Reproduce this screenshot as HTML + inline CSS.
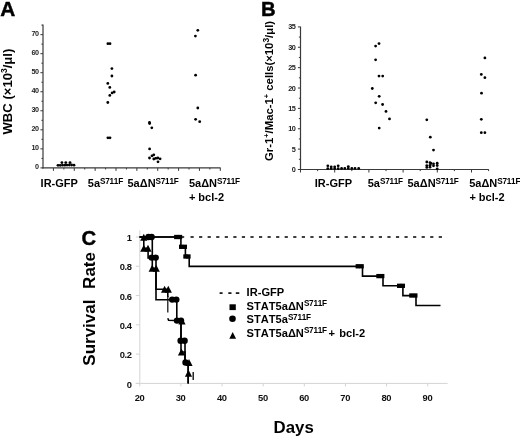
<!DOCTYPE html>
<html><head><meta charset="utf-8"><style>
html,body{margin:0;padding:0;background:#fff;}
body{width:520px;height:438px;overflow:hidden;}
svg{display:block;font-family:"Liberation Sans", sans-serif;will-change:transform;font-kerning:none;}
</style></head><body>
<svg width="520" height="438" viewBox="0 0 520 438">
<rect width="520" height="438" fill="#fff"/>
<text x="0" y="15.7" font-size="20.0" font-weight="bold" text-anchor="start" fill="#000" stroke="#000" stroke-width="0.45" transform="translate(0.3,0) scale(1.04,1)">A</text>
<line x1="43" y1="24.4" x2="43" y2="168.5" stroke="#3a3a3a" stroke-width="1.2" />
<line x1="40.4" y1="167.9" x2="43" y2="167.9" stroke="#3a3a3a" stroke-width="1.0" />
<text x="38.5" y="169.4" font-size="7.2" font-weight="bold" text-anchor="end" fill="#222" letter-spacing="-0.45">0</text>
<line x1="41.4" y1="158.38" x2="43" y2="158.38" stroke="#3a3a3a" stroke-width="1.0" />
<line x1="40.4" y1="148.86" x2="43" y2="148.86" stroke="#3a3a3a" stroke-width="1.0" />
<text x="38.5" y="150.36" font-size="7.2" font-weight="bold" text-anchor="end" fill="#222" letter-spacing="-0.45">10</text>
<line x1="41.4" y1="139.34" x2="43" y2="139.34" stroke="#3a3a3a" stroke-width="1.0" />
<line x1="40.4" y1="129.82" x2="43" y2="129.82" stroke="#3a3a3a" stroke-width="1.0" />
<text x="38.5" y="131.32" font-size="7.2" font-weight="bold" text-anchor="end" fill="#222" letter-spacing="-0.45">20</text>
<line x1="41.4" y1="120.3" x2="43" y2="120.3" stroke="#3a3a3a" stroke-width="1.0" />
<line x1="40.4" y1="110.78" x2="43" y2="110.78" stroke="#3a3a3a" stroke-width="1.0" />
<text x="38.5" y="112.28" font-size="7.2" font-weight="bold" text-anchor="end" fill="#222" letter-spacing="-0.45">30</text>
<line x1="41.4" y1="101.26" x2="43" y2="101.26" stroke="#3a3a3a" stroke-width="1.0" />
<line x1="40.4" y1="91.74" x2="43" y2="91.74" stroke="#3a3a3a" stroke-width="1.0" />
<text x="38.5" y="93.24" font-size="7.2" font-weight="bold" text-anchor="end" fill="#222" letter-spacing="-0.45">40</text>
<line x1="41.4" y1="82.22" x2="43" y2="82.22" stroke="#3a3a3a" stroke-width="1.0" />
<line x1="40.4" y1="72.7" x2="43" y2="72.7" stroke="#3a3a3a" stroke-width="1.0" />
<text x="38.5" y="74.2" font-size="7.2" font-weight="bold" text-anchor="end" fill="#222" letter-spacing="-0.45">50</text>
<line x1="41.4" y1="63.18" x2="43" y2="63.18" stroke="#3a3a3a" stroke-width="1.0" />
<line x1="40.4" y1="53.66" x2="43" y2="53.66" stroke="#3a3a3a" stroke-width="1.0" />
<text x="38.5" y="55.16" font-size="7.2" font-weight="bold" text-anchor="end" fill="#222" letter-spacing="-0.45">60</text>
<line x1="41.4" y1="44.14" x2="43" y2="44.14" stroke="#3a3a3a" stroke-width="1.0" />
<line x1="40.4" y1="34.62" x2="43" y2="34.62" stroke="#3a3a3a" stroke-width="1.0" />
<text x="38.5" y="36.12" font-size="7.2" font-weight="bold" text-anchor="end" fill="#222" letter-spacing="-0.45">70</text>
<line x1="41.4" y1="25.1" x2="43" y2="25.1" stroke="#3a3a3a" stroke-width="1.0" />
<line x1="42.4" y1="167.9" x2="220.6" y2="167.9" stroke="#3a3a3a" stroke-width="1.2" />
<line x1="53.43" y1="167.9" x2="53.43" y2="170.9" stroke="#3a3a3a" stroke-width="1.0" />
<line x1="63.86" y1="167.9" x2="63.86" y2="169.5" stroke="#3a3a3a" stroke-width="1.0" />
<line x1="74.29" y1="167.9" x2="74.29" y2="170.9" stroke="#3a3a3a" stroke-width="1.0" />
<line x1="84.72" y1="167.9" x2="84.72" y2="169.5" stroke="#3a3a3a" stroke-width="1.0" />
<line x1="95.15" y1="167.9" x2="95.15" y2="170.9" stroke="#3a3a3a" stroke-width="1.0" />
<line x1="105.58" y1="167.9" x2="105.58" y2="169.5" stroke="#3a3a3a" stroke-width="1.0" />
<line x1="116.01" y1="167.9" x2="116.01" y2="170.9" stroke="#3a3a3a" stroke-width="1.0" />
<line x1="126.44" y1="167.9" x2="126.44" y2="169.5" stroke="#3a3a3a" stroke-width="1.0" />
<line x1="136.87" y1="167.9" x2="136.87" y2="170.9" stroke="#3a3a3a" stroke-width="1.0" />
<line x1="147.3" y1="167.9" x2="147.3" y2="169.5" stroke="#3a3a3a" stroke-width="1.0" />
<line x1="157.73" y1="167.9" x2="157.73" y2="170.9" stroke="#3a3a3a" stroke-width="1.0" />
<line x1="168.16" y1="167.9" x2="168.16" y2="169.5" stroke="#3a3a3a" stroke-width="1.0" />
<line x1="178.59" y1="167.9" x2="178.59" y2="170.9" stroke="#3a3a3a" stroke-width="1.0" />
<line x1="189.02" y1="167.9" x2="189.02" y2="169.5" stroke="#3a3a3a" stroke-width="1.0" />
<line x1="199.45" y1="167.9" x2="199.45" y2="170.9" stroke="#3a3a3a" stroke-width="1.0" />
<line x1="209.88" y1="167.9" x2="209.88" y2="169.5" stroke="#3a3a3a" stroke-width="1.0" />
<line x1="220.31" y1="167.9" x2="220.31" y2="170.9" stroke="#3a3a3a" stroke-width="1.0" />
<text transform="translate(11.6,134.5) rotate(-90)" font-size="13.1" font-weight="bold" fill="#000">WBC (×10<tspan font-size="8.5" dy="-4.5">3</tspan><tspan dy="4.5">/μl)</tspan></text>
<circle cx="58" cy="165.3" r="1.4" fill="#000"/>
<circle cx="60.2" cy="165.3" r="1.4" fill="#000"/>
<circle cx="62.5" cy="165.2" r="1.4" fill="#000"/>
<circle cx="64.8" cy="165.2" r="1.4" fill="#000"/>
<circle cx="67" cy="165.1" r="1.4" fill="#000"/>
<circle cx="69.3" cy="165" r="1.4" fill="#000"/>
<circle cx="71.6" cy="165" r="1.4" fill="#000"/>
<circle cx="74" cy="165.2" r="1.4" fill="#000"/>
<circle cx="61.9" cy="162.6" r="1.4" fill="#000"/>
<circle cx="65.8" cy="162.6" r="1.4" fill="#000"/>
<circle cx="70" cy="162.6" r="1.4" fill="#000"/>
<circle cx="107.9" cy="43.7" r="1.4" fill="#000"/>
<circle cx="110" cy="43.7" r="1.4" fill="#000"/>
<circle cx="111.9" cy="68.6" r="1.4" fill="#000"/>
<circle cx="111.9" cy="76" r="1.4" fill="#000"/>
<circle cx="107.8" cy="83.4" r="1.4" fill="#000"/>
<circle cx="109.8" cy="87.4" r="1.4" fill="#000"/>
<circle cx="112.1" cy="92.9" r="1.4" fill="#000"/>
<circle cx="114.2" cy="92" r="1.4" fill="#000"/>
<circle cx="109.8" cy="95.4" r="1.4" fill="#000"/>
<circle cx="107.8" cy="102.5" r="1.4" fill="#000"/>
<circle cx="107.9" cy="137.8" r="1.4" fill="#000"/>
<circle cx="110" cy="137.8" r="1.4" fill="#000"/>
<circle cx="149.5" cy="122.4" r="1.4" fill="#000"/>
<circle cx="149.6" cy="123.6" r="1.4" fill="#000"/>
<circle cx="151.8" cy="127.8" r="1.4" fill="#000"/>
<circle cx="149.6" cy="148.9" r="1.4" fill="#000"/>
<circle cx="152" cy="155.8" r="1.4" fill="#000"/>
<circle cx="153.8" cy="154.8" r="1.4" fill="#000"/>
<circle cx="149.5" cy="158" r="1.4" fill="#000"/>
<circle cx="153.8" cy="159" r="1.4" fill="#000"/>
<circle cx="155.8" cy="158.3" r="1.4" fill="#000"/>
<circle cx="157.8" cy="158" r="1.4" fill="#000"/>
<circle cx="160.1" cy="158.8" r="1.4" fill="#000"/>
<circle cx="158" cy="161.8" r="1.4" fill="#000"/>
<circle cx="197.8" cy="30.3" r="1.4" fill="#000"/>
<circle cx="195.4" cy="36.1" r="1.4" fill="#000"/>
<circle cx="195.6" cy="75.2" r="1.4" fill="#000"/>
<circle cx="197.8" cy="108" r="1.4" fill="#000"/>
<circle cx="195.6" cy="119.3" r="1.4" fill="#000"/>
<circle cx="199.7" cy="121.7" r="1.4" fill="#000"/>
<text x="40.6" y="187.4" font-size="11" font-weight="bold" text-anchor="start" fill="#000" >IR-GFP</text>
<text x="87.8" y="187.4" font-size="11" font-weight="bold" text-anchor="start" fill="#000" >5a<tspan font-size="8.2" dy="-3.5" letter-spacing="-0.25">S711F</tspan></text>
<text x="127.5" y="187.4" font-size="11" font-weight="bold" text-anchor="start" fill="#000" >5aΔN<tspan font-size="8.2" dy="-3.5" letter-spacing="-0.25">S711F</tspan></text>
<text x="188.9" y="187.4" font-size="11" font-weight="bold" text-anchor="start" fill="#000" >5aΔN<tspan font-size="8.2" dy="-3.5" letter-spacing="-0.25">S711F</tspan></text>
<text x="188.9" y="200.7" font-size="11" font-weight="bold" text-anchor="start" fill="#000" >+ bcl-2</text>
<text x="261.1" y="15.9" font-size="20.3" font-weight="bold" text-anchor="start" fill="#000" stroke="#000" stroke-width="0.4">B</text>
<line x1="300.5" y1="26.6" x2="300.5" y2="170.1" stroke="#3a3a3a" stroke-width="1.2" />
<line x1="297.9" y1="169.5" x2="300.5" y2="169.5" stroke="#3a3a3a" stroke-width="1.0" />
<text x="295.4" y="172" font-size="7.3" font-weight="bold" text-anchor="end" fill="#222" letter-spacing="-0.45">0</text>
<line x1="298.9" y1="159.31" x2="300.5" y2="159.31" stroke="#3a3a3a" stroke-width="1.0" />
<line x1="297.9" y1="149.13" x2="300.5" y2="149.13" stroke="#3a3a3a" stroke-width="1.0" />
<text x="295.4" y="151.63" font-size="7.3" font-weight="bold" text-anchor="end" fill="#222" letter-spacing="-0.45">5</text>
<line x1="298.9" y1="138.94" x2="300.5" y2="138.94" stroke="#3a3a3a" stroke-width="1.0" />
<line x1="297.9" y1="128.76" x2="300.5" y2="128.76" stroke="#3a3a3a" stroke-width="1.0" />
<text x="295.4" y="131.26" font-size="7.3" font-weight="bold" text-anchor="end" fill="#222" letter-spacing="-0.45">10</text>
<line x1="298.9" y1="118.58" x2="300.5" y2="118.58" stroke="#3a3a3a" stroke-width="1.0" />
<line x1="297.9" y1="108.39" x2="300.5" y2="108.39" stroke="#3a3a3a" stroke-width="1.0" />
<text x="295.4" y="110.89" font-size="7.3" font-weight="bold" text-anchor="end" fill="#222" letter-spacing="-0.45">15</text>
<line x1="298.9" y1="98.2" x2="300.5" y2="98.2" stroke="#3a3a3a" stroke-width="1.0" />
<line x1="297.9" y1="88.02" x2="300.5" y2="88.02" stroke="#3a3a3a" stroke-width="1.0" />
<text x="295.4" y="90.52" font-size="7.3" font-weight="bold" text-anchor="end" fill="#222" letter-spacing="-0.45">20</text>
<line x1="298.9" y1="77.84" x2="300.5" y2="77.84" stroke="#3a3a3a" stroke-width="1.0" />
<line x1="297.9" y1="67.65" x2="300.5" y2="67.65" stroke="#3a3a3a" stroke-width="1.0" />
<text x="295.4" y="70.15" font-size="7.3" font-weight="bold" text-anchor="end" fill="#222" letter-spacing="-0.45">25</text>
<line x1="298.9" y1="57.47" x2="300.5" y2="57.47" stroke="#3a3a3a" stroke-width="1.0" />
<line x1="297.9" y1="47.28" x2="300.5" y2="47.28" stroke="#3a3a3a" stroke-width="1.0" />
<text x="295.4" y="49.78" font-size="7.3" font-weight="bold" text-anchor="end" fill="#222" letter-spacing="-0.45">30</text>
<line x1="298.9" y1="37.09" x2="300.5" y2="37.09" stroke="#3a3a3a" stroke-width="1.0" />
<line x1="297.9" y1="26.91" x2="300.5" y2="26.91" stroke="#3a3a3a" stroke-width="1.0" />
<text x="295.4" y="29.41" font-size="7.3" font-weight="bold" text-anchor="end" fill="#222" letter-spacing="-0.45">35</text>
<line x1="299.9" y1="169.5" x2="488.8" y2="169.5" stroke="#3a3a3a" stroke-width="1.2" />
<line x1="300.5" y1="169.5" x2="300.5" y2="172.5" stroke="#3a3a3a" stroke-width="1.0" />
<line x1="317.6" y1="169.5" x2="317.6" y2="171.1" stroke="#3a3a3a" stroke-width="1.0" />
<line x1="334.7" y1="169.5" x2="334.7" y2="172.5" stroke="#3a3a3a" stroke-width="1.0" />
<line x1="351.8" y1="169.5" x2="351.8" y2="171.1" stroke="#3a3a3a" stroke-width="1.0" />
<line x1="368.9" y1="169.5" x2="368.9" y2="172.5" stroke="#3a3a3a" stroke-width="1.0" />
<line x1="386" y1="169.5" x2="386" y2="171.1" stroke="#3a3a3a" stroke-width="1.0" />
<line x1="403.1" y1="169.5" x2="403.1" y2="172.5" stroke="#3a3a3a" stroke-width="1.0" />
<line x1="420.2" y1="169.5" x2="420.2" y2="171.1" stroke="#3a3a3a" stroke-width="1.0" />
<line x1="437.3" y1="169.5" x2="437.3" y2="172.5" stroke="#3a3a3a" stroke-width="1.0" />
<line x1="454.4" y1="169.5" x2="454.4" y2="171.1" stroke="#3a3a3a" stroke-width="1.0" />
<line x1="471.5" y1="169.5" x2="471.5" y2="172.5" stroke="#3a3a3a" stroke-width="1.0" />
<line x1="488.6" y1="169.5" x2="488.6" y2="171.1" stroke="#3a3a3a" stroke-width="1.0" />
<text transform="translate(273.0,161.0) rotate(-90)" font-size="11.3" font-weight="bold" fill="#000">Gr-1<tspan font-size="7.5" dy="-4">+</tspan><tspan dy="4">/Mac-1</tspan><tspan font-size="7.5" dy="-4">+</tspan><tspan dy="4"> cells(×10</tspan><tspan font-size="8.5" dy="-4">3</tspan><tspan dy="4">/μl)</tspan></text>
<circle cx="327.8" cy="165.8" r="1.4" fill="#000"/>
<circle cx="327.8" cy="168.6" r="1.4" fill="#000"/>
<circle cx="331.2" cy="166.8" r="1.4" fill="#000"/>
<circle cx="331.2" cy="168.6" r="1.4" fill="#000"/>
<circle cx="334.7" cy="166.8" r="1.4" fill="#000"/>
<circle cx="334.7" cy="168.6" r="1.4" fill="#000"/>
<circle cx="338.2" cy="165.8" r="1.4" fill="#000"/>
<circle cx="338.2" cy="168.6" r="1.4" fill="#000"/>
<circle cx="341.6" cy="168.4" r="1.4" fill="#000"/>
<circle cx="344.8" cy="168.4" r="1.4" fill="#000"/>
<circle cx="348.3" cy="168.4" r="1.4" fill="#000"/>
<circle cx="348.3" cy="166.6" r="1.4" fill="#000"/>
<circle cx="351.8" cy="168.4" r="1.4" fill="#000"/>
<circle cx="355" cy="168.4" r="1.4" fill="#000"/>
<circle cx="358.7" cy="168.4" r="1.4" fill="#000"/>
<circle cx="379" cy="43.6" r="1.4" fill="#000"/>
<circle cx="375.6" cy="46.1" r="1.4" fill="#000"/>
<circle cx="375.6" cy="59.8" r="1.4" fill="#000"/>
<circle cx="379" cy="76.1" r="1.4" fill="#000"/>
<circle cx="382.7" cy="76.1" r="1.4" fill="#000"/>
<circle cx="372.3" cy="88.5" r="1.4" fill="#000"/>
<circle cx="379.2" cy="96.3" r="1.4" fill="#000"/>
<circle cx="375.7" cy="102.8" r="1.4" fill="#000"/>
<circle cx="382.6" cy="104.5" r="1.4" fill="#000"/>
<circle cx="386" cy="111.4" r="1.4" fill="#000"/>
<circle cx="389.5" cy="118.9" r="1.4" fill="#000"/>
<circle cx="379.2" cy="128.1" r="1.4" fill="#000"/>
<circle cx="426.8" cy="119.8" r="1.4" fill="#000"/>
<circle cx="430.3" cy="137.2" r="1.4" fill="#000"/>
<circle cx="433.5" cy="150.1" r="1.4" fill="#000"/>
<circle cx="426.8" cy="162" r="1.4" fill="#000"/>
<circle cx="426.8" cy="165.6" r="1.4" fill="#000"/>
<circle cx="426.8" cy="167.4" r="1.4" fill="#000"/>
<circle cx="430" cy="162.6" r="1.4" fill="#000"/>
<circle cx="431" cy="163.4" r="1.4" fill="#000"/>
<circle cx="430" cy="165.3" r="1.4" fill="#000"/>
<circle cx="430" cy="167.2" r="1.4" fill="#000"/>
<circle cx="433.5" cy="163.8" r="1.4" fill="#000"/>
<circle cx="433.5" cy="165.8" r="1.4" fill="#000"/>
<circle cx="437.2" cy="163.2" r="1.4" fill="#000"/>
<circle cx="437.2" cy="165.5" r="1.4" fill="#000"/>
<circle cx="437.2" cy="168.8" r="1.4" fill="#000"/>
<circle cx="484.9" cy="57.9" r="1.4" fill="#000"/>
<circle cx="481.3" cy="74.4" r="1.4" fill="#000"/>
<circle cx="484.9" cy="77.7" r="1.4" fill="#000"/>
<circle cx="481.5" cy="93.2" r="1.4" fill="#000"/>
<circle cx="481.3" cy="119.3" r="1.4" fill="#000"/>
<circle cx="481.3" cy="132.7" r="1.4" fill="#000"/>
<circle cx="484.9" cy="132.7" r="1.4" fill="#000"/>
<text x="314.8" y="187.4" font-size="11" font-weight="bold" text-anchor="start" fill="#000" >IR-GFP</text>
<text x="367.7" y="187.4" font-size="11" font-weight="bold" text-anchor="start" fill="#000" >5a<tspan font-size="8.2" dy="-3.5" letter-spacing="-0.25">S711F</tspan></text>
<text x="407.5" y="187.4" font-size="11" font-weight="bold" text-anchor="start" fill="#000" >5aΔN<tspan font-size="8.2" dy="-3.5" letter-spacing="-0.25">S711F</tspan></text>
<text x="469.2" y="187.4" font-size="11" font-weight="bold" text-anchor="start" fill="#000" >5aΔN<tspan font-size="8.2" dy="-3.5" letter-spacing="-0.25">S711F</tspan></text>
<text x="469.4" y="200.7" font-size="11" font-weight="bold" text-anchor="start" fill="#000" >+ bcl-2</text>
<text x="81.5" y="244.6" font-size="20.3" font-weight="bold" text-anchor="start" fill="#000" stroke="#000" stroke-width="0.4">C</text>
<line x1="139.8" y1="230.4" x2="139.8" y2="383.4" stroke="#d4d4d4" stroke-width="1.0" />
<line x1="135.8" y1="383.4" x2="447.7" y2="383.4" stroke="#d4d4d4" stroke-width="1.0" />
<line x1="135.8" y1="383.4" x2="139.8" y2="383.4" stroke="#d4d4d4" stroke-width="1.0" />
<text x="131.7" y="387.5" font-size="9.4" font-weight="bold" text-anchor="end" fill="#111" letter-spacing="-0.35">0</text>
<line x1="135.8" y1="354.12" x2="139.8" y2="354.12" stroke="#d4d4d4" stroke-width="1.0" />
<text x="131.7" y="358.22" font-size="9.4" font-weight="bold" text-anchor="end" fill="#111" letter-spacing="-0.35">0.2</text>
<line x1="135.8" y1="324.84" x2="139.8" y2="324.84" stroke="#d4d4d4" stroke-width="1.0" />
<text x="131.7" y="328.94" font-size="9.4" font-weight="bold" text-anchor="end" fill="#111" letter-spacing="-0.35">0.4</text>
<line x1="135.8" y1="295.56" x2="139.8" y2="295.56" stroke="#d4d4d4" stroke-width="1.0" />
<text x="131.7" y="299.66" font-size="9.4" font-weight="bold" text-anchor="end" fill="#111" letter-spacing="-0.35">0.6</text>
<line x1="135.8" y1="266.28" x2="139.8" y2="266.28" stroke="#d4d4d4" stroke-width="1.0" />
<text x="131.7" y="270.38" font-size="9.4" font-weight="bold" text-anchor="end" fill="#111" letter-spacing="-0.35">0.8</text>
<line x1="135.8" y1="237" x2="139.8" y2="237" stroke="#d4d4d4" stroke-width="1.0" />
<text x="131.7" y="241.1" font-size="9.4" font-weight="bold" text-anchor="end" fill="#111" letter-spacing="-0.35">1</text>
<line x1="139.8" y1="383.4" x2="139.8" y2="386.4" stroke="#d4d4d4" stroke-width="1.0" />
<text x="139.5" y="400.8" font-size="9.4" font-weight="bold" text-anchor="middle" fill="#111" letter-spacing="-0.35">20</text>
<line x1="180.93" y1="383.4" x2="180.93" y2="386.4" stroke="#d4d4d4" stroke-width="1.0" />
<text x="180.63" y="400.8" font-size="9.4" font-weight="bold" text-anchor="middle" fill="#111" letter-spacing="-0.35">30</text>
<line x1="222.06" y1="383.4" x2="222.06" y2="386.4" stroke="#d4d4d4" stroke-width="1.0" />
<text x="221.76" y="400.8" font-size="9.4" font-weight="bold" text-anchor="middle" fill="#111" letter-spacing="-0.35">40</text>
<line x1="263.19" y1="383.4" x2="263.19" y2="386.4" stroke="#d4d4d4" stroke-width="1.0" />
<text x="262.89" y="400.8" font-size="9.4" font-weight="bold" text-anchor="middle" fill="#111" letter-spacing="-0.35">50</text>
<line x1="304.32" y1="383.4" x2="304.32" y2="386.4" stroke="#d4d4d4" stroke-width="1.0" />
<text x="304.02" y="400.8" font-size="9.4" font-weight="bold" text-anchor="middle" fill="#111" letter-spacing="-0.35">60</text>
<line x1="345.45" y1="383.4" x2="345.45" y2="386.4" stroke="#d4d4d4" stroke-width="1.0" />
<text x="345.15" y="400.8" font-size="9.4" font-weight="bold" text-anchor="middle" fill="#111" letter-spacing="-0.35">70</text>
<line x1="386.58" y1="383.4" x2="386.58" y2="386.4" stroke="#d4d4d4" stroke-width="1.0" />
<text x="386.28" y="400.8" font-size="9.4" font-weight="bold" text-anchor="middle" fill="#111" letter-spacing="-0.35">80</text>
<line x1="427.71" y1="383.4" x2="427.71" y2="386.4" stroke="#d4d4d4" stroke-width="1.0" />
<text x="427.41" y="400.8" font-size="9.4" font-weight="bold" text-anchor="middle" fill="#111" letter-spacing="-0.35">90</text>
<text x="83" y="365.7" font-size="1" font-weight="bold" text-anchor="start" fill="#000" ></text>
<text transform="translate(95.3,365.7) rotate(-90)" font-size="17" font-weight="bold" fill="#000">Survival</text>
<text transform="translate(95.3,288.9) rotate(-90)" font-size="17" font-weight="bold" fill="#000">Rate</text>
<text x="273.6" y="432.7" font-size="16.8" font-weight="bold" text-anchor="start" fill="#000" >Days</text>
<line x1="219.6" y1="293.1" x2="222.6" y2="293.1" stroke="#000" stroke-width="1.6" />
<line x1="228.3" y1="293.1" x2="231.5" y2="293.1" stroke="#000" stroke-width="1.6" />
<line x1="235.8" y1="293.1" x2="239.3" y2="293.1" stroke="#000" stroke-width="1.6" />
<rect x="229.5" y="304.3" width="6.3" height="5.8" fill="#000"/>
<circle cx="232.5" cy="318.7" r="3.3" fill="#000"/>
<polygon points="229.3,338.8 236.1,338.8 232.7,331.9" fill="#000"/>
<text x="246.6" y="296.1" font-size="11.1" font-weight="bold" text-anchor="start" fill="#000" >IR-GFP</text>
<text x="246.6" y="309.9" font-size="11.1" font-weight="bold" text-anchor="start" fill="#000" >STAT5aΔN<tspan font-size="8.2" dy="-3.8" letter-spacing="-0.25">S711F</tspan></text>
<text x="246.6" y="323.4" font-size="11.1" font-weight="bold" text-anchor="start" fill="#000" >STAT5a<tspan font-size="8.2" dy="-3.8" letter-spacing="-0.25">S711F</tspan></text>
<text x="246.6" y="337" font-size="11.1" font-weight="bold" text-anchor="start" fill="#000" >STAT5aΔN<tspan font-size="8.2" dy="-3.8" letter-spacing="-0.25">S711F</tspan></text>
<text x="328.6" y="337" font-size="11.1" font-weight="bold" text-anchor="start" fill="#000" >+</text>
<text x="339.3" y="337" font-size="11.1" font-weight="bold" text-anchor="start" fill="#000" >bcl-2</text>
<line x1="190.5" y1="237" x2="443" y2="237" stroke="#000" stroke-width="1.6" stroke-dasharray="3.2 5.36"/>
<line x1="139.3" y1="237" x2="184.2" y2="237" stroke="#000" stroke-width="1.7" />
<polyline points="139.8,237 180.9,237 180.9,246.8 185.4,246.8 185.4,256.5 189.2,256.5 189.2,266.4 362.5,266.4 362.5,276.1 383,276.1 383,285.8 402.9,285.8 402.9,295.6 416,295.5 416,305.5 440.5,305.5" fill="none" stroke="#000" stroke-width="1.6" />
<rect x="174.1" y="234.85" width="4.3" height="4.3" fill="#000"/>
<rect x="177.9" y="234.85" width="4.3" height="4.3" fill="#000"/>
<rect x="175.1" y="235.4" width="6.1" height="3.2" fill="#000"/>
<rect x="179" y="244.65" width="4.3" height="4.3" fill="#000"/>
<rect x="182.7" y="244.65" width="4.3" height="4.3" fill="#000"/>
<rect x="180" y="245.2" width="6" height="3.2" fill="#000"/>
<rect x="183.3" y="254.35" width="4.3" height="4.3" fill="#000"/>
<rect x="186.3" y="254.35" width="4.3" height="4.3" fill="#000"/>
<rect x="184.3" y="254.9" width="5.3" height="3.2" fill="#000"/>
<rect x="355.6" y="264.15" width="4.3" height="4.3" fill="#000"/>
<rect x="359.5" y="264.15" width="4.3" height="4.3" fill="#000"/>
<rect x="356.6" y="264.7" width="6.2" height="3.2" fill="#000"/>
<rect x="376.3" y="273.95" width="4.3" height="4.3" fill="#000"/>
<rect x="380.1" y="273.95" width="4.3" height="4.3" fill="#000"/>
<rect x="377.3" y="274.5" width="6.1" height="3.2" fill="#000"/>
<rect x="397" y="283.65" width="4.3" height="4.3" fill="#000"/>
<rect x="400.7" y="283.65" width="4.3" height="4.3" fill="#000"/>
<rect x="398" y="284.2" width="6" height="3.2" fill="#000"/>
<rect x="409.2" y="293.35" width="4.3" height="4.3" fill="#000"/>
<rect x="413.2" y="293.35" width="4.3" height="4.3" fill="#000"/>
<rect x="410.2" y="293.9" width="6.3" height="3.2" fill="#000"/>
<polyline points="139.8,237 152.3,237 152.3,257.9 156,257.9 156,299.8 176.8,299.8 176.8,320.7 181,320.7 181,341.6 185,341.6 185,362.5 188.2,362.5 188.2,383.4" fill="none" stroke="#000" stroke-width="1.6" />
<polygon points="178.4,324.6 185.6,324.6 182,317.6" fill="#000"/>
<circle cx="148.5" cy="237" r="3.2" fill="#000"/>
<circle cx="151.6" cy="237" r="3.2" fill="#000"/>
<circle cx="151.7" cy="257.6" r="3.2" fill="#000"/>
<circle cx="155.7" cy="257.6" r="3.2" fill="#000"/>
<circle cx="172.2" cy="299.6" r="3.2" fill="#000"/>
<circle cx="176.3" cy="299.6" r="3.2" fill="#000"/>
<circle cx="177" cy="320.6" r="3.2" fill="#000"/>
<circle cx="181" cy="320.6" r="3.2" fill="#000"/>
<circle cx="180.6" cy="340.8" r="3.2" fill="#000"/>
<circle cx="184.6" cy="340.8" r="3.2" fill="#000"/>
<circle cx="185.5" cy="362.5" r="3.2" fill="#000"/>
<polyline points="139.8,237 143.8,237 143.8,248.2 148.1,248.2 148.1,257.9 152.3,257.9 152.3,268.3 156,268.3 156,289.3 167.8,289.3 167.8,297" fill="none" stroke="#000" stroke-width="1.6" />
<line x1="167.8" y1="296" x2="167.8" y2="312.5" stroke="#111" stroke-width="1.25" />
<polyline points="167.8,318.2 168.6,320.3 181,320.7 181,352 185,352 185,362.5 188.2,362.5 188.2,372.9 188.2,383.4" fill="none" stroke="#000" stroke-width="1.6" />
<polygon points="140.2,240.7 147.4,240.7 143.8,233.7" fill="#000"/>
<polygon points="140.2,251.7 147.4,251.7 143.8,244.7" fill="#000"/>
<polygon points="144.4,251.7 151.6,251.7 148,244.7" fill="#000"/>
<polygon points="148.6,271.8 155.8,271.8 152.2,264.8" fill="#000"/>
<polygon points="152.6,271.8 159.8,271.8 156.2,264.8" fill="#000"/>
<polygon points="161,292.7 168.2,292.7 164.6,285.7" fill="#000"/>
<polygon points="164.7,292.7 171.9,292.7 168.3,285.7" fill="#000"/>
<polygon points="177.9,355.5 185.1,355.5 181.5,348.5" fill="#000"/>
<polygon points="185.4,366.1 192.6,366.1 189,359.1" fill="#000"/>
<polygon points="184.9,376.8 192.1,376.8 188.5,369.8" fill="#000"/>
<line x1="193.2" y1="372" x2="193.2" y2="380" stroke="#000" stroke-width="1.3" />
</svg>
</body></html>
